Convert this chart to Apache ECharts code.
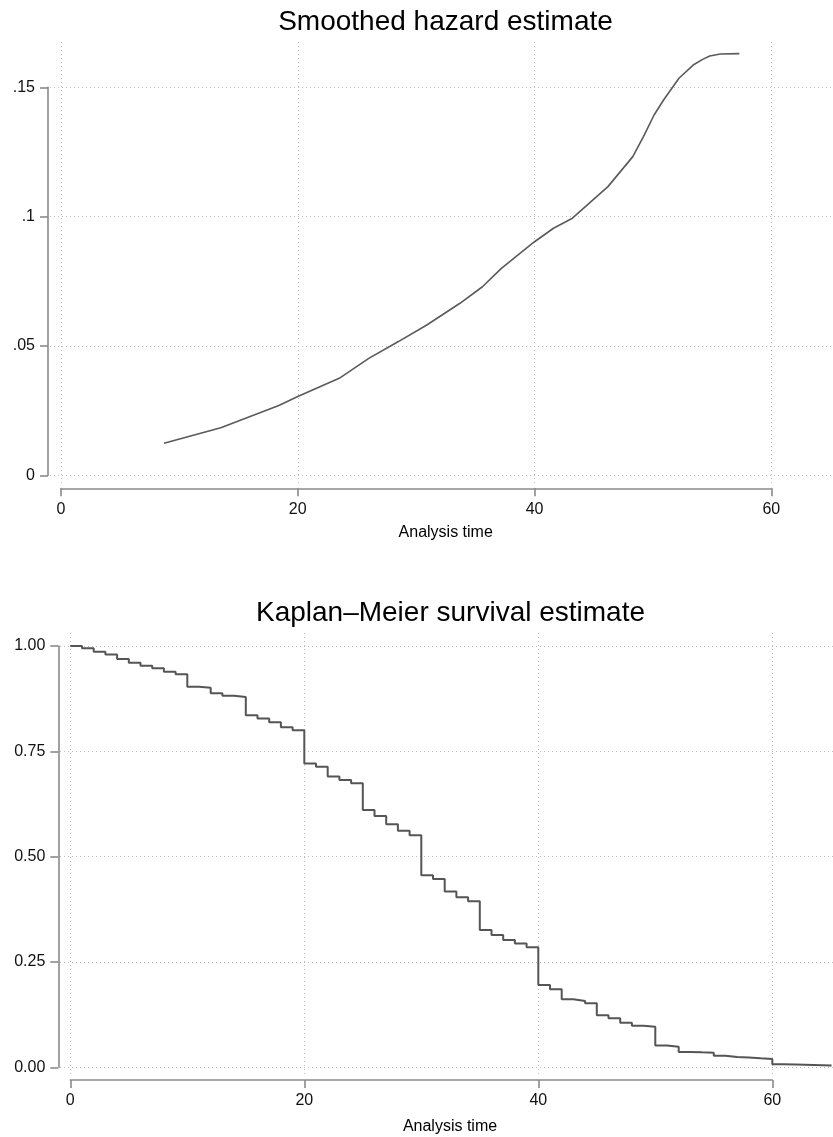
<!DOCTYPE html>
<html>
<head>
<meta charset="utf-8">
<script src="https://cdn.jsdelivr.net/npm/echarts@6/dist/echarts.min.js"></script>
<style>
html, body { margin: 0; padding: 0; background: #fff; }
#chart { width: 833px; height: 1137px; }
</style>
</head>
<body>
<div id="chart"></div>
<script>
// smoothed hazard (top panel)
var hazTime = [8.7, 13.5, 18.4, 20.0, 23.5, 26.0, 28.5, 30.9, 33.7, 35.6, 37.2, 40.0, 41.6, 43.2,
               46.2, 48.3, 49.2, 50.1, 50.9, 52.2, 53.4, 54.2, 54.8, 55.7, 57.3];
var hazRate = [.0124, .0184, .0270, .0305, .0375, .0452, .0517, .0581, .0665, .0729, .0800, .0903, .0955, .0994,
               .1116, .1232, .1309, .1393, .1451, .1535, .1586, .1608, .1621, .1629, .1630];

// Kaplan-Meier survival (bottom panel), value after the drop at each time
var kmTime = [0, 1, 2, 3, 4, 5, 6, 7, 8, 9, 10, 11, 12, 13, 14, 15, 16, 17, 18, 19,
              20, 21, 22, 23, 24, 25, 26, 27, 28, 29, 30, 31, 32, 33, 34, 35, 36, 37, 38, 39,
              40, 41, 42, 43, 44, 45, 46, 47, 48, 49, 50, 51, 52, 53, 54, 55, 56, 57, 58, 59,
              60, 61, 62, 65.07];
var kmSurv = [1.000, .9945, .9865, .980, .969, .960, .953, .947, .939, .933,
              .903, .901, .888, .882, .879, .8355, .828, .819, .807, .800,
              .721, .7135, .690, .682, .674, .611, .5965, .577, .5615, .551,
              .456, .447, .417, .4035, .394, .326, .314, .302, .294, .285,
              .1955, .185, .1615, .1575, .152, .1235, .1165, .106, .0985, .0965,
              .052, .049, .0365, .0355, .0347, .0276, .0245, .0235, .0213, .0197,
              .0071, .0065, .0040, .0040];

var titles = ['Smoothed hazard estimate', 'Kaplan\u2013Meier survival estimate'];
var xName = 'Analysis time';

var font = "'Liberation Sans', Arial, Helvetica, sans-serif";
var axisColor = '#8a8a8a';
var gridLine = { show: true, lineStyle: { color: '#bdbdbd', width: 1, type: [1, 3] } };

function zip(a, b) {
    return a.map(function (v, i) { return [v, b[i]]; });
}

function hazLabel(v) {
    if (v === 0) return '0';
    return v.toFixed(2).replace(/0+$/, '').replace(/^0/, '');
}

function mainAxis(grid, min, max, step, offset, pos, fmt) {
    return {
        gridIndex: grid, type: 'value', min: min, max: max, interval: step,
        position: pos, offset: offset,
        axisLine: { show: true, onZero: false, lineStyle: { color: axisColor, width: 1.6 } },
        axisTick: { show: true, length: 8, lineStyle: { color: axisColor, width: 1.6 } },
        axisLabel: { show: true, margin: 13, color: '#111', fontSize: 16, fontFamily: font, formatter: fmt },
        splitLine: { show: false }
    };
}

function lineAxis(grid, min, max, step) {
    return {
        gridIndex: grid, type: 'value', min: min, max: max, interval: step,
        axisLine: { show: false }, axisTick: { show: false }, axisLabel: { show: false },
        splitLine: gridLine
    };
}

function hidden(grid, max) {
    return { gridIndex: grid, type: 'value', min: 0, max: max || 1, show: false };
}

function titleText(txt, x, y, size) {
    return {
        text: txt, left: x, top: y, textAlign: 'center', padding: 0,
        textStyle: { fontFamily: font, fontSize: size, fontWeight: 'normal', color: '#000' }
    };
}

var chart = echarts.init(document.getElementById('chart'));

var option = {
    animation: false,
    backgroundColor: '#fff',
    title: [
        titleText(titles[0], 445.5, 8, 28),
        titleText(xName, 445.7, 524.5, 16),
        titleText(titles[1], 450.5, 599.5, 28),
        titleText(xName, 450, 1118.5, 16)
    ],
    grid: [
        { left: 61, top: 87.3, width: 710.3, height: 388 },
        { left: 61, top: 42, width: 710.3, height: 443 },
        { left: 50, top: 87.3, right: 0, height: 388 },
        { left: 70.3, top: 646, width: 702, height: 421.3 },
        { left: 70.3, top: 633, width: 702, height: 444 },
        { left: 60, top: 646, right: 0, height: 421.3 },
        // KM curve runs past 60, so it sits on a wider hidden 0-65.1 frame (11.7 px per unit)
        { left: 70.3, top: 646, width: 761.67, height: 421.3 }
    ],
    xAxis: [
        mainAxis(0, 0, 60, 20, 13, 'bottom'),
        lineAxis(1, 0, 60, 20),
        hidden(2),
        mainAxis(3, 0, 60, 20, 12.7, 'bottom'),
        lineAxis(4, 0, 60, 20),
        hidden(5),
        hidden(6, 65.1)
    ],
    yAxis: [
        mainAxis(0, 0, 0.15, 0.05, 13, 'left', hazLabel),
        hidden(1),
        lineAxis(2, 0, 0.15, 0.05),
        mainAxis(3, 0, 1, 0.25, 12, 'left', function (v) { return v.toFixed(2); }),
        hidden(4),
        lineAxis(5, 0, 1, 0.25),
        hidden(6, 1)
    ],
    series: [
        {
            type: 'line', xAxisIndex: 0, yAxisIndex: 0,
            data: zip(hazTime, hazRate),
            showSymbol: false, clip: false, silent: true,
            lineStyle: { color: '#5a5a5a', width: 1.6 }
        },
        {
            type: 'line', step: 'end', xAxisIndex: 6, yAxisIndex: 6,
            data: zip(kmTime, kmSurv),
            showSymbol: false, clip: false, silent: true,
            lineStyle: { color: '#555', width: 2 }
        }
    ]
};

chart.setOption(option);
</script>
</body>
</html>
